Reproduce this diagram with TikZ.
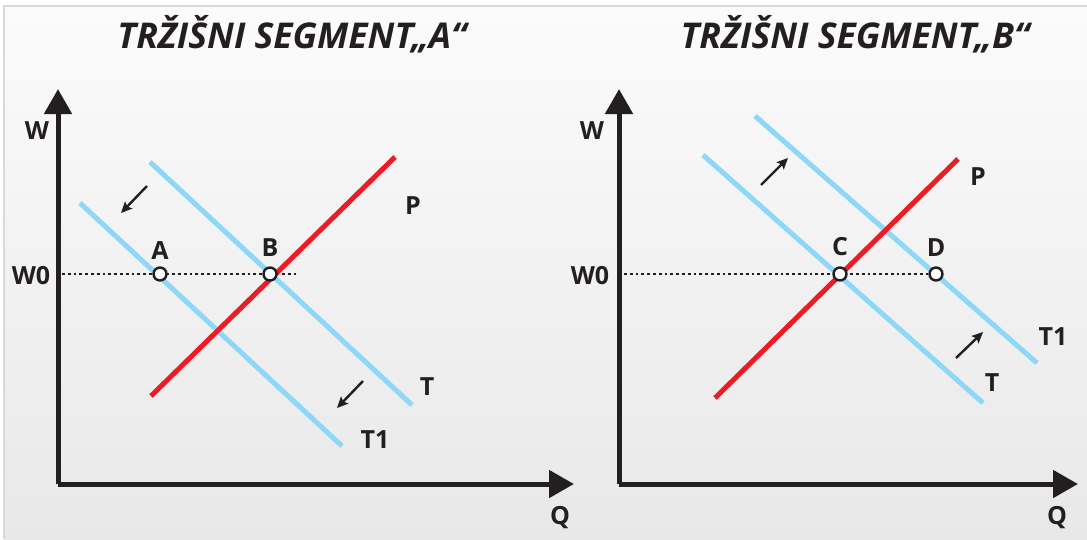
\documentclass[tikz,border=0pt]{standalone}
\usepackage{fontspec}
\setmainfont{Open Sans}
\usepackage{tikz}
\usetikzlibrary{arrows.meta, positioning}

\definecolor{demred}{HTML}{ED1C24}
\definecolor{supblue}{HTML}{8DD8F8}
\definecolor{inkblack}{HTML}{231F20}

\begin{document}
\begin{tikzpicture}[
    x=1pt, y=-1pt,
    axis/.style={draw=inkblack, line width=5pt, -{Triangle[length=25pt, width=27pt]}},
    redline/.style={draw=demred, line width=5pt},
    blueline/.style={draw=supblue, line width=5pt},
    level/.style={draw=inkblack, line width=2.8pt, dash pattern=on 2.8pt off 3pt},
    shiftarrow/.style={draw=inkblack, line width=2.4pt, -{Stealth[length=11pt, width=10pt, inset=2pt]}},
    dot/.style={circle, draw=inkblack, fill=white, line width=2.4pt, minimum size=13pt, inner sep=0pt},
    lbl/.style={font=\fontsize{25}{27}\selectfont\bfseries, text=inkblack, inner sep=0pt},
    heading/.style={font=\fontsize{35.5}{38}\selectfont\bfseries\itshape, text=inkblack, inner sep=0pt}
]

% Background
\useasboundingbox (0,0) rectangle (1087,539);
\fill[white] (0,0) rectangle (1087,539);
\shade[top color=white!97!gray, bottom color=black!9] (4,6) rectangle (1087,539);
\draw[black!15, line width=1.5pt] (4,539) -- (4,6) -- (1087,6);

% Titles
\node[heading] (titleA) at (292,34) {TRŽIŠNI SEGMENT„A“};
\node[heading] (titleB) at (855,34) {TRŽIŠNI SEGMENT„B“};

% Segment A: axes
\coordinate (oA) at (58,484);
\coordinate (wA) at (58,89);
\coordinate (qA) at (574,484);
\draw[axis] (oA) -- (wA);
\draw[axis] (oA) -- (qA);
\node[lbl] (labWA) at (37,131) {W};
\node[lbl] (labQA) at (560,518) {Q};
\node[lbl] (labW0A) at (31,276) {W0};

% Segment A: curves
\coordinate (pA1) at (151,396);
\coordinate (pA2) at (395,157);
\coordinate (tA1) at (150,162);
\coordinate (tA2) at (412,405);
\coordinate (t1A1) at (80,203);
\coordinate (t1A2) at (342,446);
\coordinate (lvA) at (62,274);
\coordinate (lvA2) at (296,274);
\draw[level] (lvA) -- (lvA2);
\draw[blueline] (tA1) -- (tA2);
\draw[blueline] (t1A1) -- (t1A2);
\draw[redline] (pA1) -- (pA2);
\node[lbl] (labPA) at (413,206) {P};
\node[lbl] (labTA) at (427,387) {T};
\node[lbl] (labT1A) at (375,440) {T1};

% Segment A: shifts
\coordinate (sA1) at (147,186);
\coordinate (sA2) at (121,213);
\coordinate (sA3) at (363,381);
\coordinate (sA4) at (337,408);
\draw[shiftarrow] (sA1) -- (sA2);
\draw[shiftarrow] (sA3) -- (sA4);

% Segment A: points
\node[dot] (ptA) at (160,274) {};
\node[dot] (ptB) at (270,274) {};
\node[lbl, above=7pt of ptA] (labA) {A};
\node[lbl, above=10pt of ptB] (labB) {B};

% Segment B: axes
\coordinate (oB) at (619,484);
\coordinate (wB) at (619,89);
\coordinate (qB) at (1078,484);
\draw[axis] (oB) -- (wB);
\draw[axis] (oB) -- (qB);
\node[lbl] (labWB) at (592,131) {W};
\node[lbl] (labQB) at (1057,518) {Q};
\node[lbl] (labW0B) at (590,276) {W0};

% Segment B: curves
\coordinate (pB1) at (715,398);
\coordinate (pB2) at (958,159);
\coordinate (tB1) at (703,155);
\coordinate (tB2) at (983,403);
\coordinate (t1B1) at (755,116);
\coordinate (t1B2) at (1037,363);
\coordinate (lvB) at (624,274);
\draw[blueline] (tB1) -- (tB2);
\draw[blueline] (t1B1) -- (t1B2);
\draw[redline] (pB1) -- (pB2);
\node[lbl] (labPB) at (978,177) {P};
\node[lbl] (labTB) at (992,383) {T};
\node[lbl] (labT1B) at (1053,337) {T1};

% Segment B: shifts
\coordinate (sB1) at (761,185);
\coordinate (sB2) at (788,158);
\coordinate (sB3) at (956,358);
\coordinate (sB4) at (983,332);
\draw[shiftarrow] (sB1) -- (sB2);
\draw[shiftarrow] (sB3) -- (sB4);

% Segment B: points
\node[dot] (ptD) at (936,274) {};
\draw[level] (lvB) -- (ptD.west);
\node[dot] (ptC) at (840,274) {};
\node[lbl, above=10pt of ptC] (labC) {C};
\node[lbl, above=10pt of ptD] (labD) {D};

\end{tikzpicture}
\end{document}
